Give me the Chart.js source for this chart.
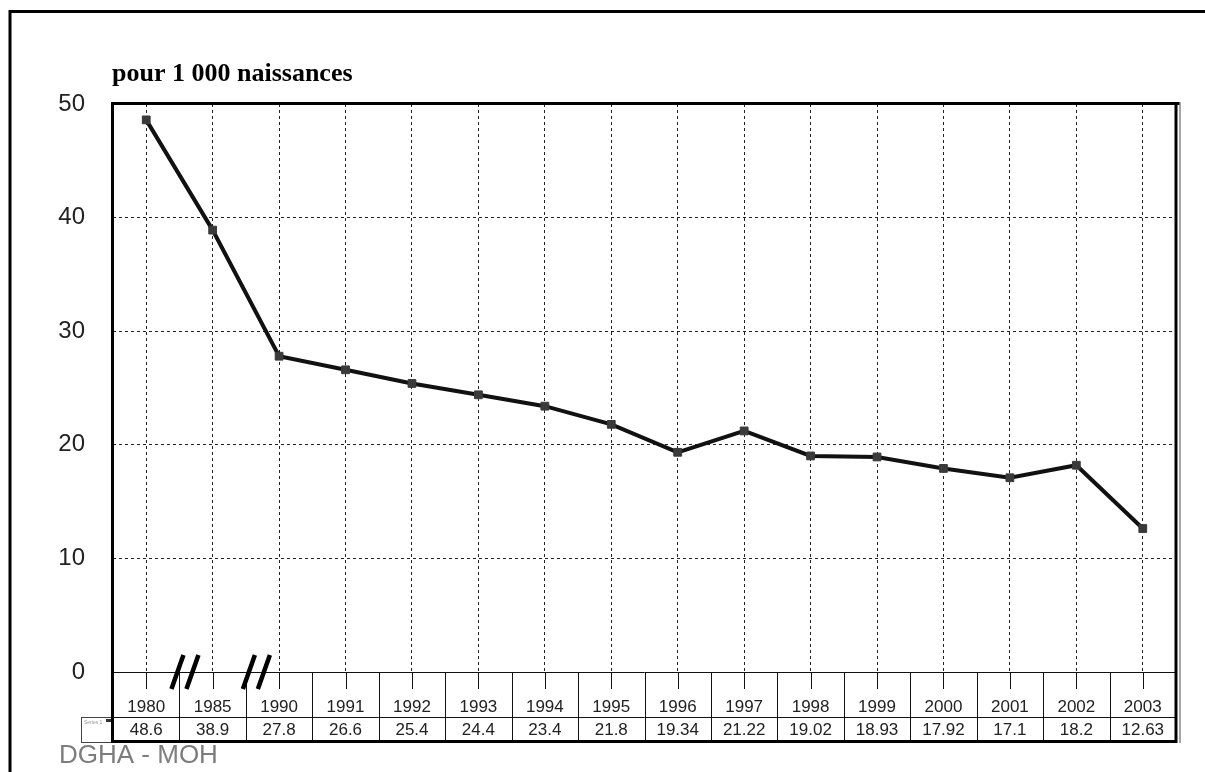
<!DOCTYPE html>
<html>
<head>
<meta charset="utf-8">
<script src="https://cdn.jsdelivr.net/npm/chart.js@4/dist/chart.umd.min.js"></script>
<style>
  html, body { margin: 0; padding: 0; background: #fff; }
  #wrap { width: 1205px; height: 772px; position: relative; }
</style>
</head>
<body>
<div id="wrap"><canvas id="c" width="1205" height="772"></canvas></div>
<script>
// ---- data ----
const years = ['1980','1985','1990','1991','1992','1993','1994','1995','1996','1997','1998','1999','2000','2001','2002','2003'];
const rates = [48.6, 38.9, 27.8, 26.6, 25.4, 24.4, 23.4, 21.8, 19.34, 21.22, 19.02, 18.93, 17.92, 17.1, 18.2, 12.63];
const rateLabels = ['48.6','38.9','27.8','26.6','25.4','24.4','23.4','21.8','19.34','21.22','19.02','18.93','17.92','17.1','18.2','12.63'];
const yMin = 0, yMax = 50, yStep = 10;
const breakAfter = [0, 1]; // axis breaks between 1980|1985 and 1985|1990
const seriesName = 'Series 1';
const titleText = 'pour 1 000 naissances';
const sourceText = 'DGHA - MOH';

// ---- layout constants ----
const AREA_LEFT = 113, AREA_TOP = 104, AREA_RIGHT = 1176, AREA_BOTTOM = 672;
const ROW1_BOTTOM = 717, ROW2_BOTTOM = 741;

const decorPlugin = {
  id: 'decor',
  afterDraw(chart) {
    const ctx = chart.ctx;
    const xs = chart.scales.x;
    const ca = chart.chartArea;
    const n = years.length;
    const px = i => xs.getPixelForValue(i);
    const half = (px(1) - px(0)) / 2;
    ctx.save();

    // outer frame
    ctx.strokeStyle = '#000';
    ctx.lineWidth = 3;
    ctx.strokeRect(10, 11.5, 1205, 800);

    // title
    ctx.fillStyle = '#000';
    ctx.font = 'bold 26px "Liberation Serif", "Times New Roman", serif';
    ctx.textAlign = 'left';
    ctx.textBaseline = 'alphabetic';
    ctx.fillText(titleText, 112, 81);

    // source
    ctx.fillStyle = '#7d7d7d';
    ctx.font = '26px "Liberation Sans", Arial, sans-serif';
    ctx.fillText(sourceText, 59, 763);

    // table horizontal lines
    ctx.strokeStyle = '#111';
    ctx.lineWidth = 1;
    ctx.beginPath();
    ctx.moveTo(ca.left, ca.bottom + 0.5); ctx.lineTo(ca.right, ca.bottom + 0.5);
    ctx.moveTo(ca.left, ROW1_BOTTOM + 0.5); ctx.lineTo(ca.right, ROW1_BOTTOM + 0.5);
    ctx.stroke();

    // column separators and tick marks
    ctx.beginPath();
    for (let i = 1; i < n; i++) {
      const b = Math.round(px(i) - half) + 0.5;
      ctx.moveTo(b, ca.bottom); ctx.lineTo(b, ROW2_BOTTOM);
    }
    for (let i = 0; i < n; i++) {
      const c = Math.round(px(i)) + 0.5;
      ctx.moveTo(c, ca.bottom); ctx.lineTo(c, ca.bottom + 17);
    }
    ctx.stroke();

    // table text
    ctx.fillStyle = '#222';
    ctx.font = '17px "Liberation Sans", Arial, sans-serif';
    ctx.textAlign = 'center';
    ctx.textBaseline = 'middle';
    for (let i = 0; i < n; i++) {
      ctx.fillText(years[i], px(i), 707);
      ctx.fillText(rateLabels[i], px(i), 730);
    }

    // legend key box
    ctx.strokeStyle = '#444';
    ctx.lineWidth = 1;
    ctx.strokeRect(81.5, ROW1_BOTTOM + 0.5, ca.left - 81, ROW2_BOTTOM - ROW1_BOTTOM + 1);
    ctx.fillStyle = '#999';
    ctx.font = '5px "Liberation Sans", Arial, sans-serif';
    ctx.textAlign = 'left';
    ctx.textBaseline = 'top';
    ctx.fillText(seriesName, 84, 720);
    ctx.fillStyle = '#333';
    ctx.fillRect(106, 719, 5, 3);

    // plot frame: thick left, top, bottom
    ctx.strokeStyle = '#000';
    ctx.lineWidth = 3;
    ctx.beginPath();
    ctx.moveTo(ca.left - 0.5, ROW2_BOTTOM + 1.5);
    ctx.lineTo(ca.left - 0.5, ca.top - 0.5);
    ctx.lineTo(ca.right + 4, ca.top - 0.5);
    ctx.moveTo(ca.left - 2, ROW2_BOTTOM + 0.5);
    ctx.lineTo(ca.right + 1, ROW2_BOTTOM + 0.5);
    ctx.stroke();
    // right double border
    ctx.beginPath();
    ctx.lineWidth = 3;
    ctx.moveTo(ca.right, ca.top - 2); ctx.lineTo(ca.right, ROW2_BOTTOM + 2);
    ctx.stroke();
    ctx.beginPath();
    ctx.strokeStyle = '#888';
    ctx.lineWidth = 1.5;
    ctx.moveTo(ca.right + 4, ca.top - 2); ctx.lineTo(ca.right + 4, ROW2_BOTTOM + 2);
    ctx.stroke();

    // axis break marks
    ctx.strokeStyle = '#000';
    ctx.lineWidth = 4.5;
    ctx.lineCap = 'butt';
    breakAfter.forEach((i, k) => {
      const b = px(i) + half;
      const off = k === 0 ? 0 : 5;
      ctx.beginPath();
      ctx.moveTo(b - 8 + off, 689); ctx.lineTo(b + 4 + off, 655);
      ctx.moveTo(b + 7 + off, 689); ctx.lineTo(b + 19 + off, 655);
      ctx.stroke();
    });

    ctx.restore();
  }
};

new Chart(document.getElementById('c'), {
  type: 'line',
  data: {
    labels: years,
    datasets: [{
      label: seriesName,
      data: rates,
      borderColor: '#111',
      borderWidth: 4,
      tension: 0,
      pointStyle: 'rect',
      pointRadius: 5.5,
      pointBackgroundColor: '#3a3a3a',
      pointBorderColor: '#3a3a3a',
      pointBorderWidth: 1,
      clip: false
    }]
  },
  options: {
    responsive: false,
    animation: false,
    layout: { padding: { left: 0, top: AREA_TOP, right: 1205 - AREA_RIGHT, bottom: 772 - AREA_BOTTOM } },
    plugins: { legend: { display: false }, tooltip: { enabled: false }, title: { display: false } },
    scales: {
      x: {
        type: 'category',
        offset: true,
        ticks: { display: false },
        grid: { offset: false, drawTicks: false, color: '#222', lineWidth: 1 },
        border: { display: false, dash: [3, 3] },
        afterFit(scale) { scale.height = 0; }
      },
      y: {
        min: yMin, max: yMax,
        ticks: {
          stepSize: yStep,
          padding: 28,
          color: '#222',
          font: { family: '"Liberation Sans", Arial, sans-serif', size: 24 }
        },
        grid: { drawTicks: false, color: '#222', lineWidth: 1 },
        border: { display: false, dash: [3, 3] },
        afterFit(scale) { scale.width = AREA_LEFT; }
      }
    }
  },
  plugins: [decorPlugin]
});
</script>
</body>
</html>
